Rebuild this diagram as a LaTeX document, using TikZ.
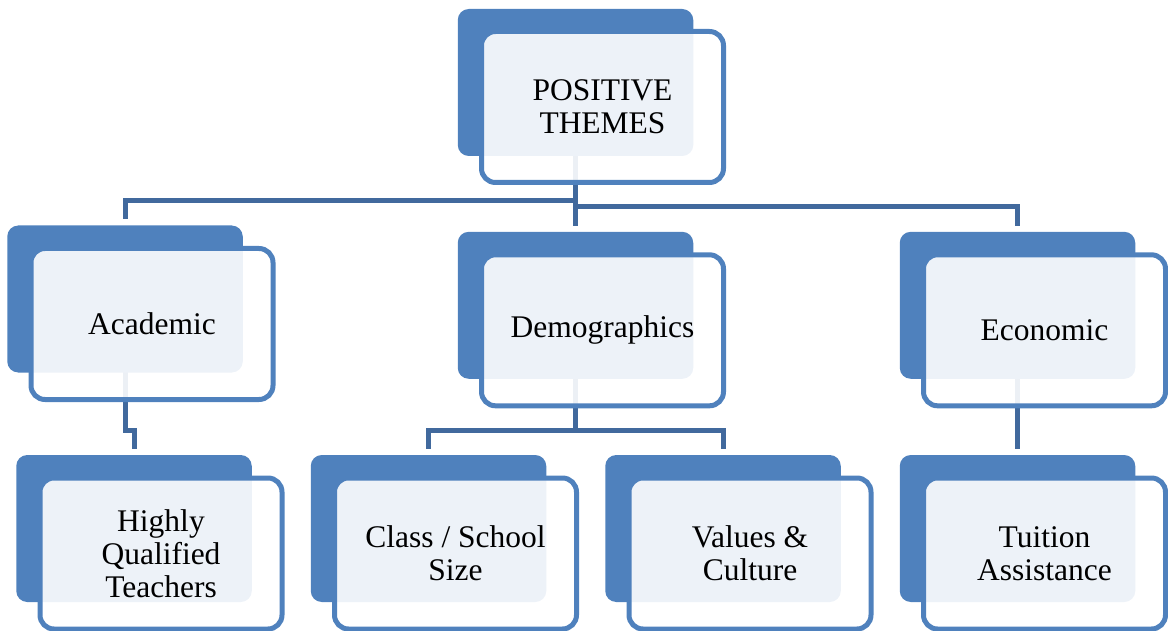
\documentclass[tikz,border=0pt]{standalone}
\usepackage{fontspec}
\setmainfont{Liberation Serif}
\definecolor{boxblue}{RGB}{79,129,189}
\definecolor{linkblue}{RGB}{65,105,157}
\pgfdeclarelayer{bg}
\pgfsetlayers{bg,main}
\begin{document}
\begin{tikzpicture}[x=1pt,y=-1pt,line join=round,
	backbox/.style={fill=boxblue,rounded corners=11pt,minimum width=235.5pt,minimum height=147pt,inner sep=0pt,outer sep=0pt},
	frontbox/.style={draw=boxblue,line width=5pt,fill=white,fill opacity=0.9,text opacity=1,rounded corners=14pt,
		minimum width=242pt,minimum height=151pt,inner sep=0pt,outer sep=0pt,align=center,font=\fontsize{31.5}{33}\selectfont},
	link/.style={draw=linkblue,line width=5pt}]
		\useasboundingbox (0,0) rectangle (1168,631);
		% back boxes, then the framed boxes with the texts
		\node[backbox] (topb) at (575.5,82.5) {};
		\node[frontbox] (top) at ([shift={(27,24.5)}]topb.center) {POSITIVE\\THEMES};
		\node[backbox] (acadb) at (125,299) {};
		\node[frontbox] (acad) at ([shift={(27,25)}]acadb.center) {Academic};
		\node[backbox] (demob) at (575.5,305.3) {};
		\node[frontbox] (demo) at ([shift={(27,25)}]demob.center) {Demographics};
		\node[backbox] (econb) at (1017.5,305.3) {};
		\node[frontbox] (econ) at ([shift={(27,25)}]econb.center) {Economic};
		\node[backbox] (hqb) at (134,528.5) {};
		\node[frontbox] (hq) at ([shift={(27,25)}]hqb.center) {Highly\\Qualified\\Teachers};
		\node[backbox] (classb) at (428.5,528.5) {};
		\node[frontbox] (class) at ([shift={(27,25)}]classb.center) {Class / School\\Size};
		\node[backbox] (valb) at (723,528.5) {};
		\node[frontbox] (val) at ([shift={(27,25)}]valb.center) {Values \&\\Culture};
		\node[backbox] (tuitb) at (1017.5,528.5) {};
		\node[frontbox] (tuit) at ([shift={(27,25)}]tuitb.center) {Tuition\\Assistance};
		% connectors behind the boxes
		\begin{pgfonlayer}{bg}
		\draw[link] (topb.center) |- ([yshift=25pt]acadb.north) -- ([yshift=6pt]acadb.north);
		\draw[link] (topb.center) -- ([yshift=6pt]demob.north);
		\draw[link] (topb.center) |- ([yshift=25pt]econb.north) -- ([yshift=6pt]econb.north);
		\draw[link] (acadb.center) |- ([yshift=25pt]hqb.north) -- ([yshift=6pt]hqb.north);
		\draw[link] (demob.center) |- ([yshift=25pt]classb.north) -- ([yshift=6pt]classb.north);
		\draw[link] (demob.center) |- ([yshift=25pt]valb.north) -- ([yshift=6pt]valb.north);
		\draw[link] (econb.center) -- ([yshift=6pt]tuitb.north);
		\end{pgfonlayer}
\end{tikzpicture}
\end{document}
